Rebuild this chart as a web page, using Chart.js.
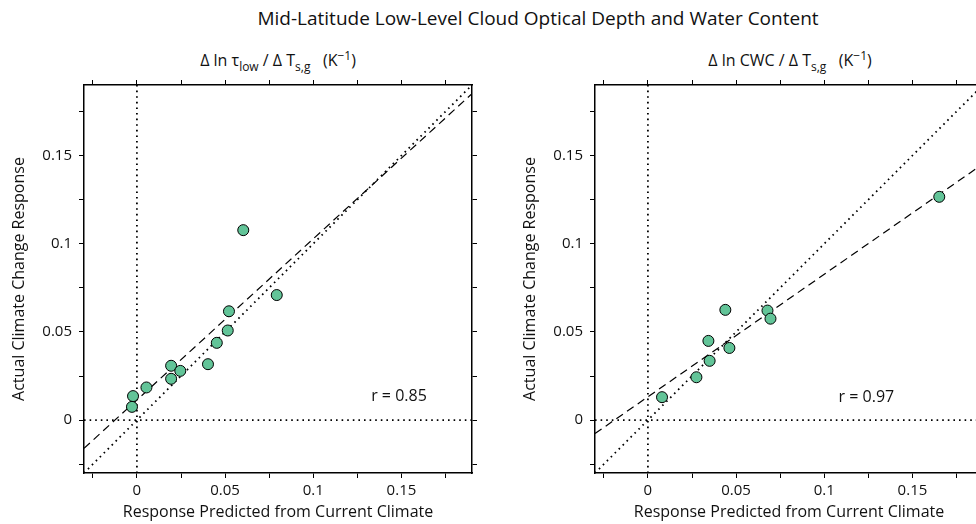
<!DOCTYPE html>
<html>
<head>
<meta charset="utf-8">
<script src="https://cdn.jsdelivr.net/npm/chart.js@4"></script>
<style>
  body { margin: 0; width: 976px; height: 524px; overflow: hidden; background: #fff; position: relative; font-family: "Open Sans", sans-serif; color: #111; }
  canvas { position: absolute; top: 0; }
  .title { position: absolute; top: 5px; left: 238px; width: 600px; text-align: center; font-size: 19px; }
  .sub { position: absolute; top: 46px; width: 300px; text-align: center; font-size: 16px; line-height: 20px; }
  .sub sub { font-size: 12px; vertical-align: -5px; }
  .sub sup { font-size: 12px; vertical-align: 6px; }
</style>
</head>
<body>
<div class="title">Mid-Latitude Low-Level Cloud Optical Depth and Water Content</div>
<div class="sub" style="left:128px">Δ ln τ<sub>low</sub> / Δ T<sub>s,g</sub> &nbsp;&nbsp;(K<sup>−1</sup>)</div>
<div class="sub" style="left:640px">Δ ln CWC / Δ T<sub>s,g</sub> &nbsp;&nbsp;(K<sup>−1</sup>)</div>
<canvas id="tauChart" width="490" height="524" style="left:0"></canvas>
<canvas id="cwcChart" width="510" height="524" style="left:490px"></canvas>
<script>
// axis range and ticks (shared by both panels)
const axisMin = -0.03;
const axisMax = 0.19;
const tickValues = [-0.025, 0, 0.025, 0.05, 0.075, 0.1, 0.125, 0.15, 0.175];
const tickLabels = { '0': '0', '0.05': '0.05', '0.1': '0.1', '0.15': '0.15' };

// left panel: ln tau_low
const tauPredicted = [0.0603, 0.0793, 0.0522, 0.0515, 0.0453, 0.0403, 0.0194, 0.0246, 0.0194, 0.0054, -0.0022, -0.0028];
const tauActual    = [0.1077, 0.0709, 0.0617, 0.0508, 0.0438, 0.0317, 0.0308, 0.0279, 0.0234, 0.0185, 0.0136, 0.0075];
const tauFit = [0.0114, 0.914];   // intercept, slope
const tauR = 'r = 0.85';

// right panel: ln CWC
const cwcPredicted = [0.1652, 0.0439, 0.0678, 0.0695, 0.0343, 0.0462, 0.0350, 0.0275, 0.0080];
const cwcActual    = [0.1266, 0.0625, 0.0621, 0.0575, 0.0449, 0.0409, 0.0336, 0.0243, 0.0130];
const cwcFit = [0.0132, 0.695];
const cwcR = 'r = 0.97';

const FONT = '"Open Sans", sans-serif';
const markerFill = 'rgb(98, 196, 152)';

function makeAxis(pos, size, opts = {}) {
  const horizontal = pos === 'bottom' || pos === 'top';
  return {
    type: 'linear',
    position: pos,
    min: axisMin,
    max: axisMax,
    display: true,
    border: { display: true, color: '#000', width: 1.5 },
    grid: { drawOnChartArea: false, drawTicks: true, tickLength: 5, color: '#000', tickWidth: 1 },
    afterBuildTicks: s => { s.ticks = tickValues.map(v => ({ value: v })); },
    afterFit: s => { if (horizontal) s.height = size; else s.width = size; },
    ticks: {
      display: opts.labels === true,
      color: '#111',
      font: { family: FONT, size: 15 },
      padding: horizontal ? 4 : 7,
      maxRotation: 0,
      autoSkip: false,
      callback: v => tickLabels[String(+v.toFixed(3))] || ''
    },
    title: opts.title ? {
      display: true,
      text: opts.title,
      color: '#111',
      font: { family: FONT, size: 16 },
      padding: opts.titlePad
    } : { display: false }
  };
}

// draws the r = ... note at a data position
const rNote = {
  id: 'rNote',
  afterDatasetsDraw(chart, args, o) {
    const { ctx, scales } = chart;
    ctx.save();
    ctx.fillStyle = '#111';
    ctx.font = '16px ' + FONT;
    ctx.textAlign = 'center';
    ctx.textBaseline = 'middle';
    ctx.fillText(o.text, scales.x.getPixelForValue(o.x), scales.y.getPixelForValue(o.y));
    ctx.restore();
  }
};

function buildPanel(id, xs, ys, fit, rText, rPos, leftWidth, rightWidth, yTitlePad) {
  const pts = xs.map((x, i) => ({ x: x, y: ys[i] }));
  const fitLine = [axisMin, axisMax].map(x => ({ x: x, y: fit[0] + fit[1] * x }));
  new Chart(document.getElementById(id), {
    type: 'scatter',
    data: {
      datasets: [
        { data: pts, pointRadius: 5.5, pointBackgroundColor: markerFill, pointBorderColor: '#000', pointBorderWidth: 1 },
        { data: fitLine, showLine: true, pointRadius: 0, borderColor: '#000', borderWidth: 1.2, borderDash: [8, 5] },
        { data: [{ x: axisMin, y: axisMin }, { x: axisMax, y: axisMax }], showLine: true, pointRadius: 0, borderColor: '#000', borderWidth: 1.8, borderDash: [1.6, 4] },
        { data: [{ x: 0, y: axisMin }, { x: 0, y: axisMax }], showLine: true, pointRadius: 0, borderColor: '#000', borderWidth: 1.8, borderDash: [1.6, 4] },
        { data: [{ x: axisMin, y: 0 }, { x: axisMax, y: 0 }], showLine: true, pointRadius: 0, borderColor: '#000', borderWidth: 1.8, borderDash: [1.6, 4] }
      ]
    },
    options: {
      responsive: false,
      animation: false,
      layout: { padding: 0 },
      plugins: {
        legend: { display: false },
        tooltip: { enabled: false },
        rNote: { text: rText, x: rPos[0], y: rPos[1] }
      },
      scales: {
        x: makeAxis('bottom', 51, { labels: true, title: 'Response Predicted from Current Climate', titlePad: { top: 0, bottom: 2 } }),
        x2: makeAxis('top', 85),
        y: makeAxis('left', leftWidth, { labels: true, title: 'Actual Climate Change Response', titlePad: { top: yTitlePad, bottom: 0 } }),
        y2: makeAxis('right', rightWidth)
      }
    },
    plugins: [rNote]
  });
}

buildPanel('tauChart', tauPredicted, tauActual, tauFit, tauR, [0.1486, 0.0136], 84, 18, 10);
buildPanel('cwcChart', cwcPredicted, cwcActual, cwcFit, cwcR, [0.1239, 0.0127], 105, 17, 31);
</script>
</body>
</html>
